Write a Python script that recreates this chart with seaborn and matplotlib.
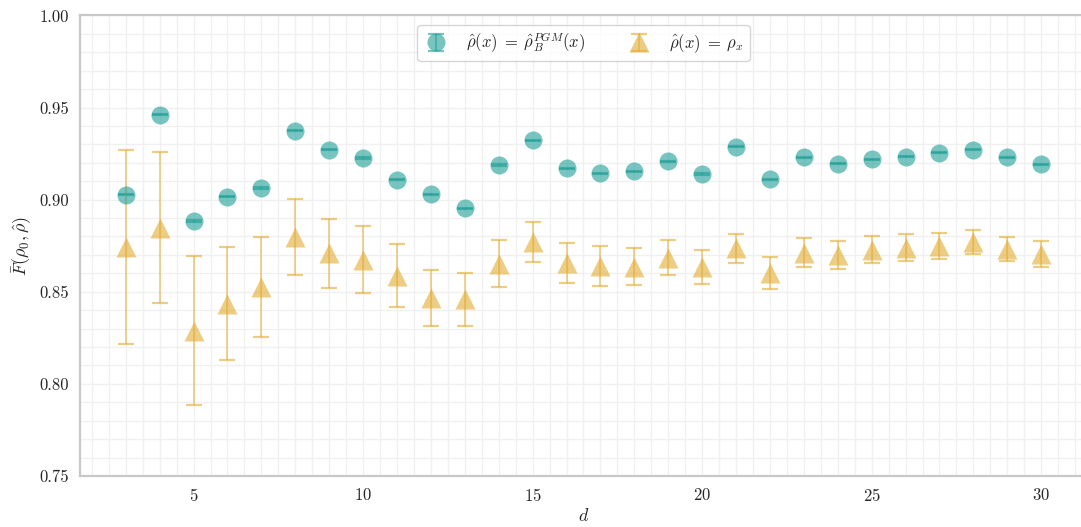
import numpy as np
import seaborn as sns
import matplotlib
matplotlib.use('Agg')
import matplotlib.pyplot as plt
from matplotlib.ticker import MultipleLocator

d = list(range(3, 31))

# fidelity with rho_hat = rho_B^PGM
pgm_mean = [0.9027, 0.9462, 0.8883, 0.9016, 0.9062, 0.9375, 0.9272, 0.9226, 0.9108,
            0.9028, 0.8953, 0.9188, 0.9321, 0.9170, 0.9143, 0.9155, 0.9209, 0.9139,
            0.9287, 0.9111, 0.9230, 0.9196, 0.9219, 0.9234, 0.9254, 0.9272, 0.9230, 0.9192]
pgm_err = [0.0004, 0.0004, 0.0004, 0.0004, 0.0004, 0.0004, 0.0004, 0.0004, 0.0004,
           0.0004, 0.0004, 0.0003, 0.0003, 0.0003, 0.0003, 0.0003, 0.0003, 0.0003,
           0.0003, 0.0003, 0.0003, 0.0003, 0.0003, 0.0003, 0.0003, 0.0003, 0.0003, 0.0003]

# fidelity with rho_hat = rho_x
rx_mean = [0.8743, 0.8848, 0.8288, 0.8436, 0.8527, 0.8797, 0.8708, 0.8674, 0.8587,
           0.8467, 0.8459, 0.8652, 0.8768, 0.8656, 0.8638, 0.8637, 0.8684, 0.8635,
           0.8736, 0.8602, 0.8712, 0.8699, 0.8727, 0.8740, 0.8749, 0.8772, 0.8732, 0.8705]
rx_err = [0.0524, 0.0410, 0.0404, 0.0305, 0.0270, 0.0204, 0.0189, 0.0181, 0.0171,
          0.0151, 0.0145, 0.0127, 0.0108, 0.0111, 0.0109, 0.0100, 0.0095, 0.0094,
          0.0080, 0.0088, 0.0080, 0.0078, 0.0073, 0.0072, 0.0070, 0.0065, 0.0067, 0.0068]

sns.set_style('whitegrid')
plt.rcParams['font.family'] = ['cmr10', 'DejaVu Serif']
plt.rcParams['mathtext.fontset'] = 'cm'
plt.rcParams['axes.formatter.use_mathtext'] = True
plt.rcParams['axes.unicode_minus'] = False

teal = '#1f9e96'
gold = '#e2ab30'

fig = plt.figure(figsize=(10.81, 5.27), dpi=100)
ax = fig.add_axes([0.074, 0.0968, 0.9315, 0.874])

ax.errorbar(d, pgm_mean, yerr=pgm_err, fmt='o', color=teal, markersize=13,
            alpha=0.6, capsize=6, capthick=1.6, elinewidth=1.2, mec='none',
            label=r'$\hat{\rho}(x)\;=\;\hat{\rho}_B^{PGM}(x)$', zorder=3)
ax.errorbar(d, rx_mean, yerr=rx_err, fmt='^', color=gold, markersize=14,
            alpha=0.6, capsize=6, capthick=1.6, elinewidth=1.2, mec='none',
            label=r'$\hat{\rho}(x)\;=\;\rho_x$', zorder=3)

ax.set_xlim(1.65, 31.35)
ax.set_ylim(0.75, 1.0)
ax.xaxis.set_major_locator(MultipleLocator(5))
ax.xaxis.set_minor_locator(MultipleLocator(0.5))
ax.yaxis.set_major_locator(MultipleLocator(0.05))
ax.yaxis.set_minor_locator(MultipleLocator(0.01))
ax.yaxis.set_major_formatter(matplotlib.ticker.FormatStrFormatter('%.2f'))
ax.grid(which='both', color='#f0f0f0', linewidth=1.0)
ax.tick_params(which='both', length=0, labelsize=12, pad=8)

for s in ['left', 'bottom', 'top']:
    ax.spines[s].set_color('#c8c8c8')
    ax.spines[s].set_linewidth(1.6)
ax.spines['right'].set_visible(False)

ax.set_xlabel(r'$d$', fontsize=13, labelpad=2)
ax.set_ylabel(r'$\bar{F}(\rho_0,\hat{\rho})$', fontsize=13, labelpad=4)

leg = ax.legend(loc='upper center', ncol=2, fontsize=12, frameon=True,
                bbox_to_anchor=(0.5, 0.99), columnspacing=2.4, handletextpad=1.0,
                handlelength=1.6, borderpad=0.35, borderaxespad=0.3)
leg.get_frame().set_edgecolor('#cccccc')

fig.savefig('out.png', dpi=100)
